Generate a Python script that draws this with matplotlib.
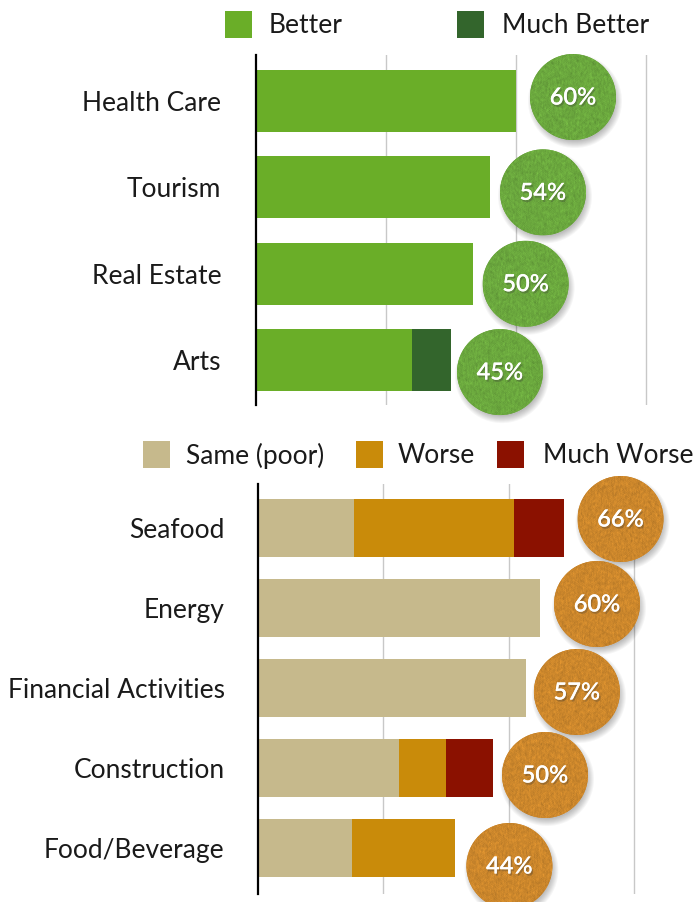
import numpy as np
import matplotlib
matplotlib.use("Agg")
import matplotlib.pyplot as plt
from matplotlib.patches import Circle, Rectangle
from matplotlib.image import BboxImage
from matplotlib.transforms import Bbox, IdentityTransform
import matplotlib.patheffects as pe

plt.rcParams['font.family'] = ['Lato', 'DejaVu Sans']

# ---------------- data ----------------
top_categories = ["Health Care", "Tourism", "Real Estate", "Arts"]
top_series = ["Better", "Much Better"]
better = [60, 54, 50, 36]
much_better = [0, 0, 0, 9]
top_badges = ["60%", "54%", "50%", "45%"]

bottom_categories = ["Seafood", "Energy", "Financial Activities", "Construction", "Food/Beverage"]
bottom_series = ["Same (poor)", "Worse", "Much Worse"]
same_poor = [20.5, 60, 57, 30, 20]
worse = [34, 0, 0, 10, 22]
much_worse = [10.5, 0, 0, 10, 0]
bottom_badges = ["66%", "60%", "57%", "50%", "44%"]

# ---------------- styles / layout ----------------
W, H = 694, 902
top_colors = ["#6aae28", "#33652c"]
bottom_colors = ["#c6b98c", "#c98b0a", "#8b1100"]
green_badge = np.array([0x6b, 0xa8, 0x3e]) / 255
orange_badge = np.array([0xcc, 0x87, 0x2c]) / 255
label_fs = 19
text_color = "#1a1a1a"

fig = plt.figure(figsize=(W / 100, H / 100), dpi=100)
fig.patch.set_facecolor("white")


def add_axes_px(left, top, right, bottom):
    return fig.add_axes([left / W, 1 - bottom / H, (right - left) / W, (bottom - top) / H])


def style_axes(ax, cats, xmax, ticks, ylim, pad):
    ax.set_xlim(0, xmax)
    ax.set_ylim(*ylim)
    ax.set_xticks(ticks)
    ax.set_xticklabels([])
    ax.tick_params(axis='x', length=0)
    ax.set_yticks(range(len(cats)))
    ax.set_yticklabels(cats, fontsize=label_fs, color=text_color)
    ax.tick_params(axis='y', length=0, pad=pad)
    ax.grid(axis='x', color="#c8c8c8", linewidth=1.0)
    ax.set_axisbelow(True)
    for s in ["top", "right", "bottom"]:
        ax.spines[s].set_visible(False)
    ax.spines["left"].set_color("black")
    ax.spines["left"].set_linewidth(1.6)
    ax.set_facecolor("none")


rng = np.random.default_rng(3)


def badge(ax, xval, yval, dx, dy, text, base):
    cx, cy = ax.transData.transform((xval, yval))
    cx += dx
    cy -= dy
    r = 43
    # soft shadow
    for k in range(8):
        sh = Circle((cx + 2, cy - 4), r + 4 - k, transform=IdentityTransform(),
                    facecolor="black", edgecolor="none", alpha=0.035, zorder=2)
        fig.add_artist(sh)
    circ = Circle((cx, cy), r, transform=IdentityTransform(),
                  facecolor=base, edgecolor="none", zorder=3)
    fig.add_artist(circ)
    n = 2 * r
    noise = rng.normal(0, 1, (n, n))
    noise = (noise + np.roll(noise, 1, 0) + np.roll(noise, 1, 1) + np.roll(noise, -1, 0)) / 4
    arr = np.clip(base[None, None, :] * (1 + 0.07 * noise[:, :, None]), 0, 1)
    bi = BboxImage(Bbox.from_bounds(cx - r, cy - r, n, n), interpolation='nearest', zorder=3.5)
    bi.set_data(arr)
    fig.add_artist(bi)
    bi.set_clip_path(circ)
    t = fig.text(cx, cy, text, transform=IdentityTransform(), ha='center', va='center',
                 color='white', fontsize=17, fontweight='semibold', zorder=4)
    t.set_path_effects([pe.withSimplePatchShadow(offset=(1, -1.5), alpha=0.3, shadow_rgbFace='#333333'),
                        pe.Normal()])


def legend_px(x_sq, y_sq, size, color, x_text, label):
    rect = Rectangle((x_sq / W, 1 - (y_sq + size) / H), size / W, size / H,
                     transform=fig.transFigure, facecolor=color, edgecolor='none')
    fig.add_artist(rect)
    fig.text(x_text / W, 1 - (y_sq + size / 2 + 1) / H, label, ha='left', va='center',
             fontsize=label_fs, color=text_color)


# ---------------- top panel ----------------
ax1 = add_axes_px(256, 55, 256 + 92 * 4.333, 405)
y1 = np.arange(len(top_categories))
h1 = 0.72
ax1.barh(y1, better, height=h1, color=top_colors[0], zorder=2)
ax1.barh(y1, much_better, left=better, height=h1, color=top_colors[1], zorder=2)
style_axes(ax1, top_categories, 92, [30, 60, 90], (3.52, -0.533), 25)

top_dx = [57, 53, 53, 49]
top_dy = [-4, 5, 10, 12]
for i in range(len(top_categories)):
    tot = better[i] + much_better[i]
    badge(ax1, tot, i, top_dx[i], top_dy[i], top_badges[i], green_badge)

legend_px(225, 11, 27, top_colors[0], 269, top_series[0])
legend_px(457, 11, 27, top_colors[1], 502, top_series[1])

# ---------------- bottom panel ----------------
ax2 = add_axes_px(258, 484, 258 + 82 * 4.7, 894)
y2 = np.arange(len(bottom_categories))
h2 = 0.73
ax2.barh(y2, same_poor, height=h2, color=bottom_colors[0], zorder=2)
left2 = np.array(same_poor)
ax2.barh(y2, worse, left=left2, height=h2, color=bottom_colors[1], zorder=2)
left2 = left2 + np.array(worse)
ax2.barh(y2, much_worse, left=left2, height=h2, color=bottom_colors[2], zorder=2)
style_axes(ax2, bottom_categories, 82, [80 / 3, 160 / 3, 80], (4.575, -0.55), 24)

bot_dx = [57, 57, 51, 52, 54]
bot_dy = [-9, -4, 4, 7, 18]
for i in range(len(bottom_categories)):
    tot = same_poor[i] + worse[i] + much_worse[i]
    badge(ax2, tot, i, bot_dx[i], bot_dy[i], bottom_badges[i], orange_badge)

legend_px(143, 441, 27, bottom_colors[0], 186, bottom_series[0])
legend_px(356, 441, 27, bottom_colors[1], 398, bottom_series[1])
legend_px(497, 441, 27, bottom_colors[2], 543, bottom_series[2])

fig.savefig("out.png", dpi=100, facecolor="white")
